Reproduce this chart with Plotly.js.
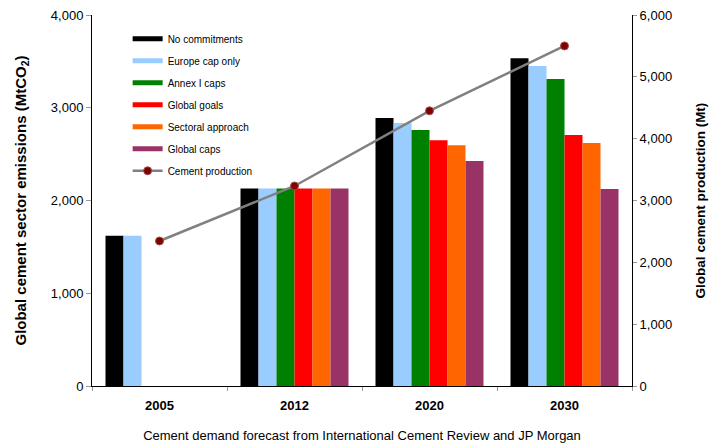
<!DOCTYPE html>
<html><head><meta charset="utf-8">
<script src="https://cdn.plot.ly/plotly-3.0.1.min.js"></script>
<style>body{margin:0;background:#fff}#c{width:713px;height:447px}</style>
</head><body><div id="c"></div>
<script>
const years = ['2005','2012','2020','2030'];
const seriesNames = ['No commitments','Europe cap only','Annex I caps','Global goals','Sectoral approach','Global caps'];
const noCommitments = [1620, 2130, 2890, 3535];
const europeCapOnly = [1620, 2130, 2835, 3450];
const annexICaps = [null, 2130, 2760, 3310];
const globalGoals = [null, 2130, 2650, 2705];
const sectoralApproach = [null, 2130, 2595, 2620];
const globalCaps = [null, 2130, 2425, 2125];
const cementProduction = [2345, 3235, 4450, 5500];
const seriesColors = ['#000000','#99ccff','#008000','#ff0000','#ff6600','#993366'];

const allSeries = [noCommitments, europeCapOnly, annexICaps, globalGoals, sectoralApproach, globalCaps];
const font = 'Liberation Sans, Arial, sans-serif';
const traces = [];
allSeries.forEach((vals, i) => {
  traces.push({type:'bar', x: years, y: vals, name: seriesNames[i], marker:{color: seriesColors[i], line:{width:0}}, showlegend:false, legendgroup:'g'+i});
});
// legend entries drawn as thick line swatches
allSeries.forEach((vals, i) => {
  traces.push({type:'scatter', mode:'lines', x: years, y: vals.map(() => null), name: seriesNames[i], line:{color: seriesColors[i], width:5}, legendgroup:'g'+i, hoverinfo:'skip'});
});
traces.push({type:'scatter', mode:'lines+markers', x: years, y: cementProduction, yaxis:'y2', name:'Cement production', legendgroup:'g6',
  line:{color:'#808080', width:2.5}, marker:{color:'#800000', size:8, line:{color:'#a05050', width:1}}});

const layout = {
  width:713, height:447,
  margin:{l:92, r:81, t:15, b:61},
  paper_bgcolor:'#fff', plot_bgcolor:'#fff',
  font:{family: font, color:'#000'},
  barmode:'group', bargap:0.2, bargroupgap:0,
  showlegend:true,
  legend:{x:0.066, y:0.975, xanchor:'left', yanchor:'top', bgcolor:'rgba(0,0,0,0)', font:{size:10, family: font}, tracegroupgap:3, itemwidth:30},
  xaxis:{type:'category', categoryorder:'array', categoryarray: years, showline:true, linecolor:'#000', linewidth:1,
    ticks:'outside', tickson:'boundaries', ticklen:4, tickcolor:'#999', tickfont:{size:13, family: font, weight:'bold'},
    ticklabelstandoff:7,
    title:{text:'Cement demand forecast from International Cement Review and JP Morgan', font:{size:13, family: font}, standoff:19},
    showgrid:false, zeroline:false},
  yaxis:{range:[0,4000], tickvals:[0,1000,2000,3000,4000], ticktext:['0','1,000','2,000','3,000','4,000'],
    showline:true, linecolor:'#000', linewidth:1, ticks:'outside', ticklen:5, tickcolor:'#999', tickfont:{size:13, family: font},
    showgrid:false, zeroline:false,
    title:{text:'Global cement sector emissions (MtCO<sub>2</sub>)', font:{size:15, family: font, weight:'bold'}, standoff:20}},
  yaxis2:{overlaying:'y', side:'right', range:[0,6000], tickvals:[0,1000,2000,3000,4000,5000,6000],
    ticktext:['0','1,000','2,000','3,000','4,000','5,000','6,000'],
    showline:true, linecolor:'#000', linewidth:1, ticks:'outside', ticklen:4, tickcolor:'#999', tickfont:{size:13, family: font},
    showgrid:false, zeroline:false,
    title:{text:'Global cement production (Mt)', font:{size:13.5, family: font, weight:'bold'}, standoff:24}}
};
Plotly.newPlot('c', traces, layout, {displayModeBar:false, staticPlot:true});
</script></body></html>
